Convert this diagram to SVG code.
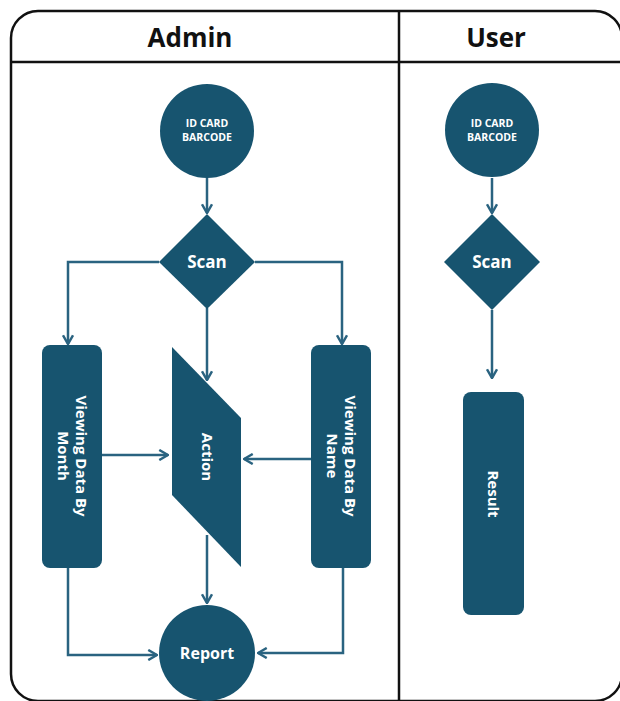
<svg xmlns="http://www.w3.org/2000/svg" width="620" height="701" viewBox="0 0 620 701">
<style>
.node{fill:#17546f}
.lbl{fill:#ffffff;font-family:"Open Sans","Noto Sans",sans-serif;font-weight:700;text-anchor:middle}
.hdr{fill:#111111;font-family:"Open Sans","Noto Sans",sans-serif;font-weight:700;font-size:26px;text-anchor:middle}
.frame{fill:none;stroke:#111111;stroke-width:2.5}
.conn{fill:none;stroke:#2a6380;stroke-width:2.5;marker-end:url(#arr)}
</style>
<defs>
<marker id="arr" viewBox="0 0 10 10" refX="9" refY="5" markerWidth="5" markerHeight="5" orient="auto" markerUnits="strokeWidth">
<polyline points="2,1 9,5 2,9" fill="none" stroke="#2a6380" stroke-width="2"/>
</marker>
</defs>
<rect width="620" height="701" fill="#ffffff"/>
<g id="frame">
<rect class="frame" x="11" y="11" width="611" height="690" rx="27"/>
<line class="frame" x1="11" y1="62" x2="622" y2="62"/>
<line class="frame" x1="399" y1="11" x2="399" y2="701"/>
<text class="hdr" x="190" y="47">Admin</text>
<text class="hdr" x="496" y="47">User</text>
</g>
<g id="connectors">
<line class="conn" x1="207" y1="178" x2="207" y2="213"/>
<polyline class="conn" points="159,262 68,262 68,344"/>
<polyline class="conn" points="255,262 342,262 342,344"/>
<line class="conn" x1="207" y1="308" x2="207" y2="380"/>
<line class="conn" x1="102" y1="455" x2="168" y2="455"/>
<line class="conn" x1="311" y1="459" x2="244" y2="459"/>
<line class="conn" x1="207" y1="535" x2="207" y2="603"/>
<polyline class="conn" points="68,568 68,655 157,655"/>
<polyline class="conn" points="343,568 343,653 258,653"/>
<line class="conn" x1="492" y1="178" x2="492" y2="213"/>
<line class="conn" x1="492" y1="310" x2="492" y2="378"/>
</g>
<g id="admin-idcard">
<circle class="node" cx="207" cy="131" r="47"/>
<text class="lbl" font-size="10.5" x="207" y="127">ID CARD</text>
<text class="lbl" font-size="10.5" x="207" y="141">BARCODE</text>
</g>
<g id="admin-scan">
<polygon class="node" points="207,214 255,262 207,309 159,262"/>
<text class="lbl" font-size="17" x="207" y="268">Scan</text>
</g>
<g id="admin-month">
<rect class="node" x="42" y="345" width="60" height="223" rx="8"/>
<text class="lbl" font-size="15" transform="translate(72,456) rotate(90)"><tspan x="0" y="-4">Viewing Data By</tspan><tspan x="0" y="14">Month</tspan></text>
</g>
<g id="admin-action">
<polygon class="node" points="172,347 241,418 241,567 172,495"/>
<text class="lbl" font-size="15" transform="translate(207,457) rotate(90)" x="0" y="5">Action</text>
</g>
<g id="admin-name">
<rect class="node" x="311" y="345" width="60" height="223" rx="8"/>
<text class="lbl" font-size="15" transform="translate(341,456) rotate(90)"><tspan x="0" y="-4">Viewing Data By</tspan><tspan x="0" y="14">Name</tspan></text>
</g>
<g id="admin-report">
<circle class="node" cx="207" cy="653" r="48"/>
<text class="lbl" font-size="16" x="207" y="659">Report</text>
</g>
<g id="user-idcard">
<circle class="node" cx="492" cy="130" r="47"/>
<text class="lbl" font-size="10.5" x="492" y="127">ID CARD</text>
<text class="lbl" font-size="10.5" x="492" y="141">BARCODE</text>
</g>
<g id="user-scan">
<polygon class="node" points="492,214 540,262 492,310 444,262"/>
<text class="lbl" font-size="17" x="492" y="268">Scan</text>
</g>
<g id="user-result">
<rect class="node" x="463" y="392" width="61" height="223" rx="8"/>
<text class="lbl" font-size="15" transform="translate(493,494) rotate(90)" x="0" y="5">Result</text>
</g>
</svg>
